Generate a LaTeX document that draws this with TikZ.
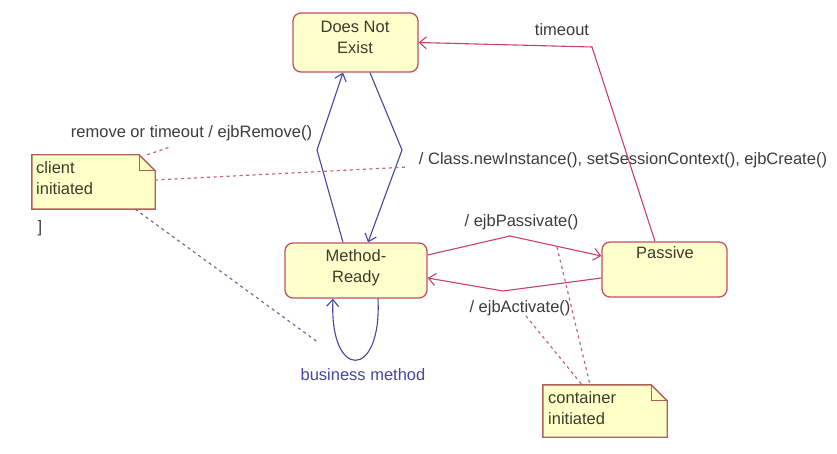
\documentclass[tikz,border=0pt]{standalone}
\usepackage{fontspec}
\setmainfont{Liberation Sans}
\usetikzlibrary{arrows.meta,calc}
\definecolor{stfill}{HTML}{FFFFCC}
\definecolor{stline}{HTML}{C05068}
\definecolor{notefill}{HTML}{FFFFC8}
\definecolor{noteline}{HTML}{B0605A}
\definecolor{redline}{HTML}{C8406E}
\definecolor{dashred}{HTML}{C86080}
\definecolor{dashblue}{HTML}{6A70A0}
\definecolor{blueline}{HTML}{4646A0}
\definecolor{txt}{HTML}{3C3C3C}
\definecolor{boxtxt}{HTML}{3C3C2C}
\begin{document}
\begin{tikzpicture}[x=1pt,y=-1pt,
  every node/.style={font=\fontsize{16.5}{21}\selectfont, text=txt, inner sep=0pt},
  state/.style={draw=stline, line width=1.3pt, fill=stfill, rounded corners=8pt},
  notebox/.style={inner sep=0pt},
  notepath/.style={draw=noteline, line width=1.4pt, fill=notefill},
  stext/.style={text=boxtxt, align=center},
  ntext/.style={text=boxtxt, align=left, anchor=west},
  arr/.style={-{Straight Barb[length=7pt,width=12pt]}},
  redarr/.style={arr, draw=redline, line width=1.1pt},
  bluearr/.style={arr, draw=blueline, line width=1.1pt},
  dashline/.style={line width=1.2pt, dash pattern=on 3pt off 3.5pt},
]
\useasboundingbox (0,0) rectangle (837,454);
\fill[white] (0,0) rectangle (837,454);

% states
\node[state, minimum width=125pt, minimum height=59pt] (dne) at (355.5,42.5) {};
\node[stext] (dneT) at (355,37.5) {Does Not\\Exist};
\node[state, minimum width=142pt, minimum height=55pt] (mr) at (356,270.5) {};
\node[stext] (mrT) at (356,268) {Method-\\Ready};
\node[state, minimum width=125pt, minimum height=55pt] (ps) at (664.5,269.5) {};
\node[stext] (psT) at (665,253) {Passive};

% notes
\node[notebox, minimum width=123pt, minimum height=54pt] (cn) at (93.5,182) {};
\draw[notepath] (cn.south west) -- (cn.north west) -- ([xshift=-16pt]cn.north east)
  -- ([yshift=-16pt]cn.north east) -- (cn.south east) -- cycle;
\draw[draw=noteline, line width=1.2pt] ([xshift=-16pt]cn.north east)
  -- ([xshift=-16pt,yshift=-16pt]cn.north east) -- ([yshift=-16pt]cn.north east);
\node[ntext] (cnT) at (36,178.5) {client\\initiated};

\node[notebox, minimum width=124pt, minimum height=52pt] (kn) at (605,411) {};
\draw[notepath] (kn.south west) -- (kn.north west) -- ([xshift=-16pt]kn.north east)
  -- ([yshift=-16pt]kn.north east) -- (kn.south east) -- cycle;
\draw[draw=noteline, line width=1.2pt] ([xshift=-16pt]kn.north east)
  -- ([xshift=-16pt,yshift=-16pt]kn.north east) -- ([yshift=-16pt]kn.north east);
\node[ntext] (knT) at (548,408) {container\\initiated};

% labels
\node (lRemove) at (191.5,133) {remove or timeout / ejbRemove()};
\node (lCreate) at (623,160) {/ Class.newInstance(), setSessionContext(), ejbCreate()};
\node (lPass) at (521.5,222) {/ ejbPassivate()};
\node (lAct) at (520,308) {/ ejbActivate()};
\node (lTime) at (562,30) {timeout};
\node[text=blueline] (lBiz) at (363,375) {business method};
\node (br) at (40,228) {]};

% bend points
\coordinate (bL) at (317,150);
\coordinate (bR) at (402,150);
\coordinate (pk) at (510,236);
\coordinate (pa) at (503,291);
\coordinate (tc) at (592,47);

% transitions
\draw[bluearr] ([xshift=-13pt]mr.north) -- (bL) -- ([xshift=-12.5pt]dne.south);
\draw[bluearr] ([xshift=14.5pt]dne.south) -- (bR) -- ([xshift=12pt]mr.north);
\draw[bluearr] ([xshift=22pt]mr.south) .. controls +(4,82) and +(-4,82) .. ([xshift=-23pt]mr.south);
\draw[redarr] ([yshift=15.5pt]mr.east) -- (pk) -- ([yshift=13.5pt]ps.west);
\draw[redarr] ([yshift=-8.5pt]ps.west) -- (pa) -- ([yshift=-7.5pt]mr.east);
\draw[redarr] ([xshift=-9.5pt]ps.north) -- (tc) -- (dne.east);

% note anchors
\coordinate (cRem) at (170,147);
\coordinate (cCre) at (408,167);
\coordinate (cBiz) at (319,343);
\coordinate (cPas) at (557,247);
\coordinate (cAct) at (526,316);

\draw[dashline, draw=dashred] ([xshift=-8pt]cn.north east) -- (cRem);
\draw[dashline, draw=dashred] ([yshift=2pt]cn.east) -- (cCre);
\draw[dashline, draw=dashblue] ([xshift=-20pt]cn.south east) -- (cBiz);
\draw[dashline, draw=dashred] (cPas) -- ([xshift=-15pt]kn.north);
\draw[dashline, draw=dashred] (cAct) -- ([xshift=-23pt]kn.north);
\end{tikzpicture}
\end{document}
